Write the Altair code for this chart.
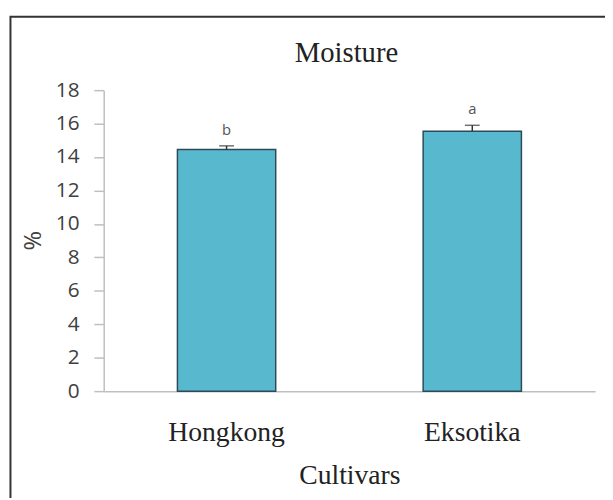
import altair as alt
import pandas as pd

title_text = ["Moisture"]
cultivars = ["Hongkong", "Eksotika"]
moisture = [14.45, 15.55]
errors = [0.22, 0.35]
letters = ["b", "a"]
y_ticks = [0, 2, 4, 6, 8, 10, 12, 14, 16, 18]

df = pd.DataFrame({"cultivar": cultivars, "value": moisture, "err": errors, "letter": letters})
df["upper"] = df["value"] + df["err"]
tdf = pd.DataFrame({"t": title_text})

xenc = alt.X("cultivar:N", sort=cultivars,
             scale=alt.Scale(paddingInner=0.6, paddingOuter=0.3),
             axis=alt.Axis(title="Cultivars", labelAngle=0, ticks=False,
                           labelFont="Liberation Serif", labelFontSize=28,
                           labelColor="#222222", labelPadding=50, labelBaseline="alphabetic",
                           titleFont="Liberation Serif", titleFontSize=28, titleFontWeight="normal",
                           titleColor="#222222", titleBaseline="alphabetic", titleY=94,
                           domainColor="#BFBFBF", domainWidth=1.5))

yscale = alt.Scale(domain=[0, 18], nice=False)

bars = alt.Chart(df).mark_bar(color="#58B8CE", stroke="#2E4A58", strokeWidth=1.5).encode(
    x=xenc,
    y=alt.Y("value:Q", scale=yscale,
            axis=alt.Axis(title="%", values=y_ticks, tickCount=10, labelOverlap=False, grid=False,
                          labelFont="Open Sans", labelFontSize=21, labelColor="#404040",
                          labelPadding=15, tickSize=10, tickColor="#BFBFBF", tickWidth=1.5,
                          domainColor="#BFBFBF", domainWidth=1.5,
                          titleFont="Open Sans", titleFontSize=24, titleFontWeight="normal",
                          titleColor="#404040", titleX=-71, titleY=152,
                          titleAlign="center", titleBaseline="middle")),
)

rules = alt.Chart(df).mark_rule(color="#333333", strokeWidth=1.5).encode(
    x=alt.X("cultivar:N", sort=cultivars),
    y=alt.Y("value:Q", scale=yscale),
    y2="upper:Q",
)

caps = alt.Chart(df).mark_tick(color="#333333", thickness=1.5, size=15).encode(
    x=alt.X("cultivar:N", sort=cultivars),
    y=alt.Y("upper:Q", scale=yscale),
)

labels = alt.Chart(df).mark_text(font="Open Sans", fontSize=15, color="#555555",
                                 baseline="alphabetic", dy=-11).encode(
    x=alt.X("cultivar:N", sort=cultivars),
    y=alt.Y("upper:Q", scale=yscale),
    text="letter:N",
)

title = alt.Chart(tdf).mark_text(font="Liberation Serif", fontSize=29, color="#222222",
                                 baseline="alphabetic", align="center").encode(
    x=alt.value(246), y=alt.value(-29), text="t:N"
)

frame = alt.Chart(tdf).mark_rect(fill=None, stroke="#333333", strokeWidth=2).encode(
    x=alt.value(-94.5), x2=alt.value(530), y=alt.value(-74.5), y2=alt.value(450)
)

chart = alt.layer(frame, bars, rules, caps, labels, title).properties(
    width=498, height=305,
    background="white",
    autosize=alt.AutoSizeParams(type="none"),
    padding={"left": 97, "top": 80, "right": 10, "bottom": 105},
).configure_view(strokeWidth=0, stroke=None)

chart.save("out.html", embed_options={"renderer": "svg", "actions": False})
